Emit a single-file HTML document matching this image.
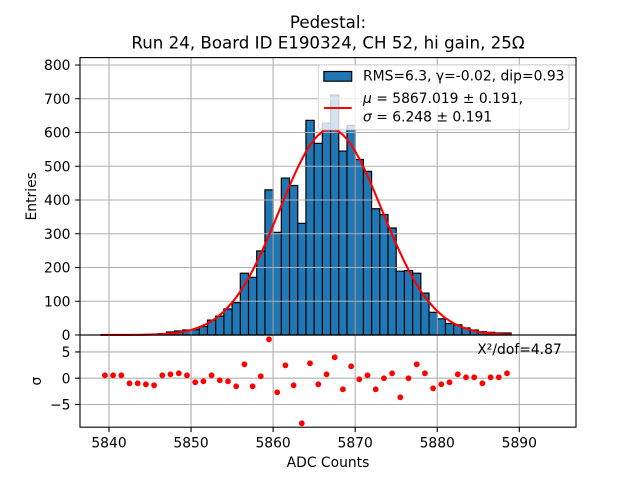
<!DOCTYPE html>
<html>
<head>
<meta charset="utf-8">
<style>
html,body{margin:0;padding:0;background:#fff;}
svg{display:block;}
text{font-family:"DejaVu Sans","Liberation Sans",sans-serif;fill:#000;}
</style>
</head>
<body>
<svg xmlns="http://www.w3.org/2000/svg" width="640" height="480" viewBox="0 0 640 480">
<rect x="0" y="0" width="640" height="480" fill="#fff"/>

<text x="328" y="28" font-size="16.67" text-anchor="middle">Pedestal:</text>
<text x="328" y="48.5" font-size="16.67" text-anchor="middle">Run 24, Board ID E190324, CH 52, hi gain, 25Ω</text>

<g transform="translate(109 335) scale(8.206 -0.3375)">
<path vector-effect="non-scaling-stroke" fill="#1f77b4" stroke="#000" stroke-width="1.2" d="M-1 0v1h1v-1z M0 0v1h1v-1z M1 0v1h1v-1z M2 0v0.5h1v-0.5z M3 0v0.5h1v-0.5z M4 0v0.5h1v-0.5z M5 0v1h1v-1z M6 0v4h1v-4z M7 0v9h1v-9z M8 0v12h1v-12z M9 0v15h1v-15z M10 0v16h1v-16z M11 0v25h1v-25z M12 0v44h1v-44z M13 0v56h1v-56z M14 0v77h1v-77z M15 0v96h1v-96z M16 0v183h1v-183z M17 0v171h1v-171z M18 0v249h1v-249z M19 0v430h1v-430z M20 0v304h1v-304z M21 0v465h1v-465z M22 0v443h1v-443z M23 0v331h1v-331z M24 0v636h1v-636z M25 0v568h1v-568z M26 0v628h1v-628z M27 0v711h1v-711z M28 0v545h1v-545z M29 0v621h1v-621z M30 0v520h1v-520z M31 0v485h1v-485z M32 0v374h1v-374z M33 0v357h1v-357z M34 0v317h1v-317z M35 0v189h1v-189z M36 0v191h1v-191z M37 0v183h1v-183z M38 0v124h1v-124z M39 0v67h1v-67z M40 0v48h1v-48z M41 0v34h1v-34z M42 0v30h1v-30z M43 0v21h1v-21z M44 0v15h1v-15z M45 0v10h1v-10z M46 0v8h1v-8z M47 0v6h1v-6z M48 0v6h1v-6z"/>
</g>

<path fill="none" stroke="#b0b0b0" stroke-width="1.1" d="M80 65H576M80 98.75H576M80 132.5H576M80 166.25H576M80 200H576M80 233.75H576M80 267.5H576M80 301.25H576M109 57.6V335M191.06 57.6V335M273.12 57.6V335M355.18 57.6V335M437.24 57.6V335M519.3 57.6V335"/>

<g transform="translate(109 335) scale(8.206 -0.3375)">
<polyline vector-effect="non-scaling-stroke" fill="none" stroke="#ff0000" stroke-width="2.1" stroke-linejoin="round" points="-1,0.026 0,0.053 1,0.104 2,0.2 3,0.38 4,0.69 5,1.23 6,2.13 7,3.6 8,5.94 9,9.53 10,14.9 11,22.8 12,33.9 13,49.2 14,69.6 15,95.9 15.5,111.5 16,128.8 16.5,147.9 17,168.7 17.5,191.1 18,215.2 18.5,240.8 19,267.7 19.5,295.7 20,324.6 20.5,353.9 21,383.6 21.5,413 22,441.8 22.5,469.6 23,496 23.5,520.5 24,542.8 24.5,562.4 25,579 25.5,592.2 26,601.9 26.5,607.9 27,610 27.5,608.2 28,602.6 28.5,593.1 29,580.1 29.5,563.8 30,544.4 30.5,522.3 31,497.9 31.5,471.6 32,443.9 32.5,415.2 33,385.8 33.5,356.2 34,326.8 34.5,297.9 35,269.8 35.5,242.8 36,217.1 36.5,192.9 37,170.3 37.5,149.4 38,130.2 38.5,112.7 39,97 40,70.5 41,49.9 42,34.4 43,23.2 44,15.2 45,9.7 46,6.04 47,3.67 48,2.17 49,1.25"/>
</g>

<rect x="318.3" y="64.8" width="250.9" height="65" rx="2.8" ry="2.8" fill="#ffffff" fill-opacity="0.8" stroke="#cccccc" stroke-opacity="0.8" stroke-width="1.1"/>
<rect x="323.9" y="71.5" width="27.8" height="9.7" fill="#1f77b4" stroke="#000" stroke-width="1.2"/>
<text x="363" y="80.7" font-size="13.89">RMS=6.3, γ=-0.02, dip=0.93</text>
<line x1="323.9" y1="108" x2="351.7" y2="108" stroke="#ff0000" stroke-width="2.1"/>
<text x="363" y="103" font-size="13.89"><tspan font-style="italic">μ</tspan> = 5867.019 ± 0.191,</text>
<text x="363" y="121.3" font-size="13.89"><tspan font-style="italic">σ</tspan> = 6.248 ± 0.191</text>

<rect x="80" y="57.6" width="496" height="277.4" fill="none" stroke="#000" stroke-width="1.1"/>

<path stroke="#000" stroke-width="1.1" d="M75.1 335H80M75.1 301.25H80M75.1 267.5H80M75.1 233.75H80M75.1 200H80M75.1 166.25H80M75.1 132.5H80M75.1 98.75H80M75.1 65H80"/>
<g font-size="13.89" text-anchor="end">
<text x="70.5" y="340">0</text>
<text x="70.5" y="306.3">100</text>
<text x="70.5" y="272.5">200</text>
<text x="70.5" y="238.8">300</text>
<text x="70.5" y="205">400</text>
<text x="70.5" y="171.3">500</text>
<text x="70.5" y="137.5">600</text>
<text x="70.5" y="103.8">700</text>
<text x="70.5" y="70">800</text>
</g>
<text transform="translate(36 196.3) rotate(-90)" font-size="13.89" text-anchor="middle">Entries</text>

<path fill="none" stroke="#b0b0b0" stroke-width="1.1" d="M80 351.9H576M80 378.2H576M80 404.5H576M109 335V427.2M191.06 335V427.2M273.12 335V427.2M355.18 335V427.2M437.24 335V427.2M519.3 335V427.2"/>

<path fill="none" stroke="#ff0000" stroke-width="5.8" stroke-linecap="round" d="M104.9 375.3h0M113.1 375.3h0M121.3 375.3h0M129.5 383.3h0M137.7 383.3h0M145.9 384.3h0M154.1 385.3h0M162.3 375.3h0M170.5 374.3h0M178.8 373.3h0M187 375.3h0M195.2 382.3h0M203.4 381.3h0M211.6 375.3h0M219.8 380.3h0M228 381.3h0M236.2 386.3h0M244.4 364.3h0M252.6 386.3h0M260.8 376.3h0M269 339.3h0M277.2 392.3h0M285.4 365.3h0M293.6 385.3h0M301.8 423.3h0M310 363.3h0M318.3 384.3h0M326.5 374.3h0M334.7 357.3h0M342.9 389.3h0M351.1 366.3h0M359.3 379.3h0M367.5 375.3h0M375.7 389.3h0M383.9 378.3h0M392.1 373.3h0M400.3 397.3h0M408.5 378.3h0M416.7 364.3h0M424.9 373.3h0M433.1 388.3h0M441.3 384.3h0M449.5 382.3h0M457.8 374.3h0M466 377.3h0M474.2 377.3h0M482.4 383.3h0M490.6 377.3h0M498.8 377.3h0M507 373.3h0"/>

<text x="477.3" y="354" font-size="13.89">X²/dof=4.87</text>

<rect x="80" y="335" width="496" height="92.2" fill="none" stroke="#000" stroke-width="1.1"/>

<path stroke="#000" stroke-width="1.1" d="M75.1 351.9H80M75.1 378.2H80M75.1 404.5H80M109 427.2V432.1M191.06 427.2V432.1M273.12 427.2V432.1M355.18 427.2V432.1M437.24 427.2V432.1M519.3 427.2V432.1"/>
<g font-size="13.89" text-anchor="end">
<text x="70.5" y="357">5</text>
<text x="70.5" y="383.3">0</text>
<text x="70.5" y="409.6">−5</text>
</g>
<text transform="translate(41 381.1) rotate(-90)" font-size="13.89" text-anchor="middle">σ</text>

<g font-size="13.89" text-anchor="middle">
<text x="109" y="447.5">5840</text>
<text x="191.06" y="447.5">5850</text>
<text x="273.12" y="447.5">5860</text>
<text x="355.18" y="447.5">5870</text>
<text x="437.24" y="447.5">5880</text>
<text x="519.3" y="447.5">5890</text>
</g>
<text x="328" y="467" font-size="13.89" text-anchor="middle">ADC Counts</text>
</svg>
</body>
</html>
